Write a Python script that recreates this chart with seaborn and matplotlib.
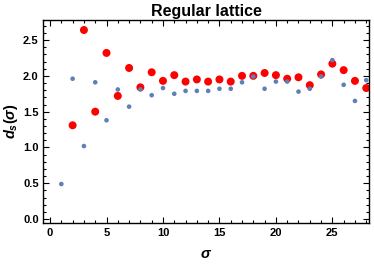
import numpy as np
import pandas as pd
import matplotlib
matplotlib.use("Agg")
import matplotlib.pyplot as plt
import seaborn as sns
from matplotlib.ticker import MultipleLocator

sigma_blue = list(range(1, 29))
ds_blue = [0.49, 1.96, 1.02, 1.91, 1.38, 1.81, 1.57, 1.81, 1.73, 1.83,
           1.75, 1.79, 1.79, 1.79, 1.82, 1.82, 1.91, 1.99, 1.82, 1.92,
           1.92, 1.78, 1.82, 1.99, 2.22, 1.875, 1.65, 1.94]

sigma_red = list(range(2, 29))
ds_red = [1.31, 2.64, 1.50, 2.32, 1.72, 2.11, 1.84, 2.05, 1.93, 2.01,
          1.92, 1.95, 1.92, 1.95, 1.92, 2.00, 2.00, 2.04, 2.01, 1.96,
          1.98, 1.87, 2.02, 2.17, 2.08, 1.93, 1.83]

sns.set_style("ticks")
plt.rcParams['font.family'] = ['Liberation Sans', 'DejaVu Sans']
plt.rcParams['mathtext.fontset'] = 'custom'
plt.rcParams['mathtext.it'] = 'Liberation Sans:italic:bold'
plt.rcParams['mathtext.rm'] = 'Liberation Sans:bold'
plt.rcParams['text.color'] = 'black'
plt.rcParams['axes.labelcolor'] = 'black'
plt.rcParams['xtick.color'] = 'black'
plt.rcParams['ytick.color'] = 'black'

fig = plt.figure(figsize=(3.74, 2.65), dpi=100)
ax = fig.add_axes([0.1163, 0.1596, 0.869, 0.765])

df_blue = pd.DataFrame({"sigma": sigma_blue, "ds": ds_blue})
df_red = pd.DataFrame({"sigma": sigma_red, "ds": ds_red})

sns.scatterplot(data=df_red, x="sigma", y="ds", ax=ax, color="#ff0000",
                s=33, edgecolor="none", zorder=2)
sns.scatterplot(data=df_blue, x="sigma", y="ds", ax=ax, color="#5e81b5",
                s=11, edgecolor="none", zorder=3)

ax.set_xlim(-0.58, 28.2)
ax.set_ylim(-0.05, 2.78)
ax.xaxis.set_major_locator(MultipleLocator(5))
ax.xaxis.set_minor_locator(MultipleLocator(1))
ax.yaxis.set_major_locator(MultipleLocator(0.5))
ax.yaxis.set_minor_locator(MultipleLocator(0.1))
ax.yaxis.set_major_formatter(matplotlib.ticker.FormatStrFormatter('%.1f'))

ax.tick_params(which="both", direction="in", top=True, right=True,
               width=0.8, labelsize=8)
ax.tick_params(which="major", length=4)
ax.tick_params(which="minor", length=2)
for lab in ax.get_xticklabels() + ax.get_yticklabels():
    lab.set_fontweight("bold")
for sp in ax.spines.values():
    sp.set_linewidth(1.0)
    sp.set_color("black")

ax.set_xlabel(r"$\sigma$", fontsize=10.5, labelpad=7)
ax.set_ylabel(r"$d_s(\sigma)$", fontsize=10.5, labelpad=2)
ax.set_title("Regular lattice", fontsize=11.5, fontweight="bold", pad=3)

fig.savefig("out.png", dpi=100)
